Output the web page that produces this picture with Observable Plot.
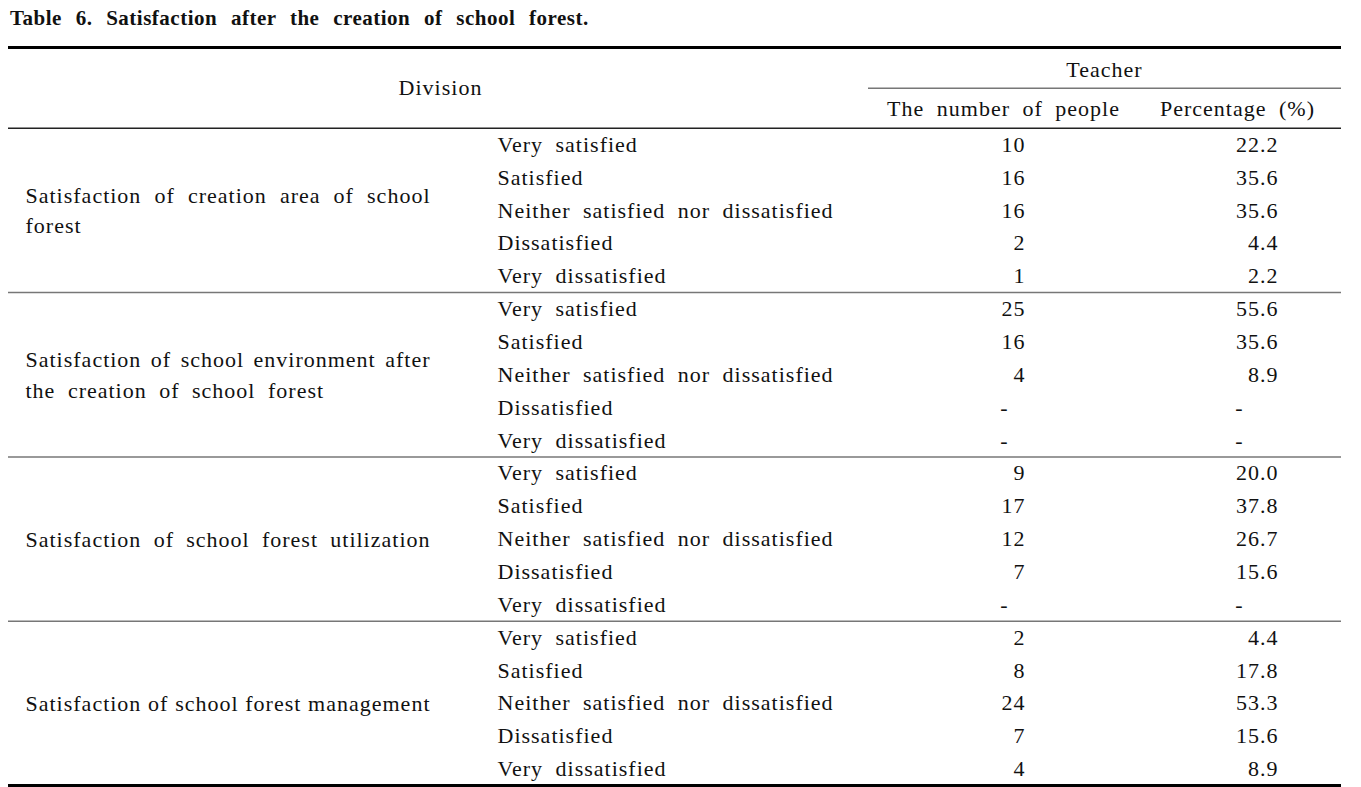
<!DOCTYPE html>
<html>
<head>
<meta charset="utf-8">
<script src="https://cdn.jsdelivr.net/npm/d3@7"></script>
<script src="https://cdn.jsdelivr.net/npm/@observablehq/plot@0.6"></script>
<style>
  html, body { margin: 0; padding: 0; background: #fff; }
  #title {
    height: 40px; box-sizing: border-box; padding: 6px 0 0 10px;
    font-family: "Liberation Serif", "Times New Roman", Times, serif; font-weight: bold; font-size: 21px;
    letter-spacing: 0.5px; word-spacing: 8px; color: #111; white-space: nowrap;
  }
  svg { display: block; }
  #chart svg, #chart svg text {
    font-family: "Liberation Serif", "Times New Roman", Times, serif !important;
    font-size: 22px !important; letter-spacing: 1px; word-spacing: 6px;
  }
</style>
</head>
<body>
<div id="title">Table 6. Satisfaction after the creation of school forest.</div>
<div id="chart"></div>
<script>
// ---- data ----
const groups = [
  "Satisfaction of creation area of school\nforest",
  "Satisfaction of school environment after\nthe creation of school forest",
  "Satisfaction of school forest utilization",
  "Satisfaction of school forest management"
];
const levels = ["Very satisfied", "Satisfied", "Neither satisfied nor dissatisfied", "Dissatisfied", "Very dissatisfied"];
const counts = [
  [10, 16, 16, 2, 1],
  [25, 16, 4, null, null],
  [9, 17, 12, 7, null],
  [2, 8, 24, 7, 4]
];
const percents = [
  [22.2, 35.6, 35.6, 4.4, 2.2],
  [55.6, 35.6, 8.9, null, null],
  [20.0, 37.8, 26.7, 15.6, null],
  [4.4, 17.8, 53.3, 15.6, 8.9]
];
const headerDivision = "Division";
const headerTeacher = "Teacher";
const headerCols = ["The number of people", "Percentage (%)"];

// ---- table rows built from the arrays ----
const rows = [];
groups.forEach((g, gi) => levels.forEach((lv, li) => {
  rows.push({group: gi, level: lv, row: gi * 5 + li + 0.5, count: counts[gi][li], pct: percents[gi][li]});
}));
const groupRows = groups.map((g, gi) => ({label: g, row: gi * 5 + 2.5}));

// ---- layout (row units on y, pixels on x) ----
const W = 1361, H = 747;
const L = 8, R = 1341;
const colDivision = 25, colDivisionRight = 430, colLevel = 497, colCount = 1025, colPct = 1278;
const dashCount = 1004, dashPct = 1239;
const yTop = -2.46, yTeacherLine = -1.22;

const chart = Plot.plot({
  width: W, height: H, margin: 0,
  style: {color: "#111", background: "#fff"},
  x: {type: "linear", domain: [0, W], range: [0, W], axis: null},
  y: {type: "linear", domain: [yTop, 20], range: [7, 745], axis: null},
  marks: [
    Plot.ruleY([yTop], {x1: L, x2: R, stroke: "#000", strokeWidth: 3}),
    Plot.ruleY([yTeacherLine], {x1: 868, x2: R, stroke: "#777", strokeWidth: 1.5}),
    Plot.ruleY([0], {x1: L, x2: R, stroke: "#222", strokeWidth: 1.5}),
    Plot.ruleY([5, 10, 15], {x1: L, x2: R, stroke: "#777", strokeWidth: 1.5}),
    Plot.ruleY([20], {x1: L, x2: R, stroke: "#000", strokeWidth: 3}),
    Plot.text([headerDivision], {x: 440, y: yTeacherLine, text: d => d, textAnchor: "middle"}),
    Plot.text([headerTeacher], {x: 1104, y: -1.79, text: d => d, textAnchor: "middle"}),
    Plot.text(headerCols, {x: (d, i) => [1003, 1237][i], y: -0.58, text: d => d, textAnchor: "middle"}),
    Plot.text(groupRows, {x: colDivision, y: "row", text: "label", textAnchor: "start", lineHeight: 1.38, dy: -2}),
    Plot.text(rows, {x: colLevel, y: "row", text: "level", textAnchor: "start"}),
    Plot.text(rows.filter(d => d.count != null), {x: colCount, y: "row", text: d => String(d.count), textAnchor: "end"}),
    Plot.text(rows.filter(d => d.pct != null), {x: colPct, y: "row", text: d => d.pct.toFixed(1), textAnchor: "end"}),
    Plot.text(rows.filter(d => d.count == null), {x: dashCount, y: "row", text: () => "-", textAnchor: "middle"}),
    Plot.text(rows.filter(d => d.pct == null), {x: dashPct, y: "row", text: () => "-", textAnchor: "middle"})
  ]
});
document.getElementById("chart").appendChild(chart);

// justify the first line of each division label across the column (as in the source table)
const firstLines = groups.map(g => g.split("\n")[0]);
const target = colDivisionRight - colDivision;
chart.querySelectorAll("text").forEach(t => {
  const tspans = t.querySelectorAll("tspan");
  const el = tspans.length ? tspans[0] : t;
  const s = el.textContent;
  if (!firstLines.includes(s)) return;
  const spaces = (s.match(/ /g) || []).length;
  if (!spaces) return;
  const len = el.getComputedTextLength();
  const ws = 6 + (target - len) / spaces;
  el.style.wordSpacing = ws + "px";
});
</script>
</body>
</html>
